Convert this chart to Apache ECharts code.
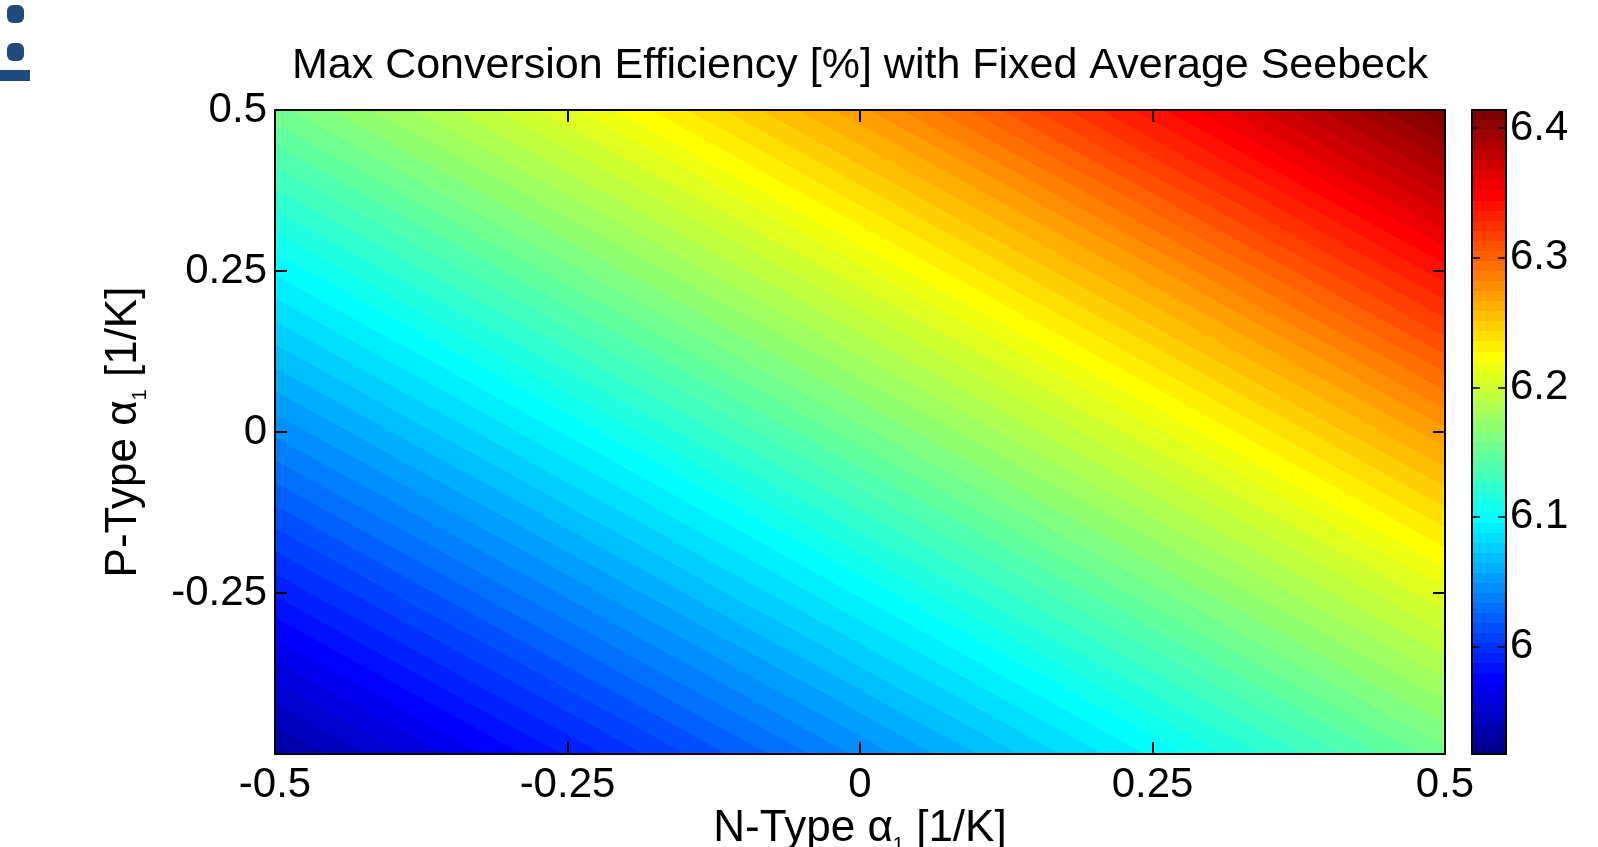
<!DOCTYPE html>
<html>
<head>
<meta charset="utf-8">
<script src="https://cdn.jsdelivr.net/npm/echarts@6/dist/echarts.min.js"></script>
<style>
html,body{margin:0;padding:0;background:#fff;}
#chart{width:1598px;height:847px;}
</style>
</head>
<body>
<div id="chart"></div>
<script>
// ---- data ----
const nTypeAlpha = [-0.5, -0.25, 0, 0.25, 0.5];        // x grid nodes [1/K]
const pTypeAlpha = [0.5, 0.25, 0, -0.25, -0.5];        // y grid nodes [1/K], top row first
const efficiency = [                                   // max conversion efficiency [%]
  [6.155, 6.210, 6.272, 6.341, 6.414],
  [6.097, 6.155, 6.210, 6.272, 6.341],
  [6.043, 6.097, 6.155, 6.210, 6.272],
  [5.988, 6.043, 6.097, 6.155, 6.210],
  [5.930, 5.988, 6.043, 6.097, 6.155]
];
const axisTicks = [-0.5, -0.25, 0, 0.25, 0.5];
const colorbarTicks = [6, 6.1, 6.2, 6.3, 6.4];
const colorRange = [5.917, 6.414];

// ---- MATLAB jet(64) colormap ----
function jetColormap(m) {
  const n = Math.ceil(m / 4);
  const u = [];
  for (let i = 1; i <= n; i++) u.push(i / n);
  for (let i = 1; i < n; i++) u.push(1);
  for (let i = n; i >= 1; i--) u.push(i / n);
  const R = new Array(m).fill(0), G = new Array(m).fill(0), B = new Array(m).fill(0);
  const off = Math.ceil(n / 2) - (m % 4 === 1 ? 1 : 0);
  for (let k = 0; k < u.length; k++) {
    const g = off + k + 1, r = g + n, b = g - n;
    if (g >= 1 && g <= m) G[g - 1] = u[k];
    if (r >= 1 && r <= m) R[r - 1] = u[k];
    if (b >= 1 && b <= m) B[b - 1] = u[k];
  }
  const out = [];
  for (let i = 0; i < m; i++) {
    out.push('rgb(' + Math.round(R[i] * 255) + ',' + Math.round(G[i] * 255) + ',' + Math.round(B[i] * 255) + ')');
  }
  return out;
}
const jet = jetColormap(64);
const bandStops = [];
jet.forEach((c, i) => {
  bandStops.push({offset: i / jet.length, color: c});
  bandStops.push({offset: (i + 1) / jet.length, color: c});
});

// cells of the grid: [x0, x1, y0, y1, vBL, vBR, vTL, vTR]
const cells = [];
for (let r = 0; r < pTypeAlpha.length - 1; r++) {
  for (let c = 0; c < nTypeAlpha.length - 1; c++) {
    const yTop = pTypeAlpha[r], yBot = pTypeAlpha[r + 1];
    cells.push([nTypeAlpha[c], nTypeAlpha[c + 1], yBot, yTop,
      efficiency[r + 1][c], efficiency[r + 1][c + 1], efficiency[r][c], efficiency[r][c + 1]]);
  }
}

function triangle(p0, p1, p2, v0, v1, v2) {
  const a = p1[0] - p0[0], b = p1[1] - p0[1], c = p2[0] - p0[0], d = p2[1] - p0[1];
  const det = a * d - b * c;
  const dv1 = v1 - v0, dv2 = v2 - v0;
  const gx = (dv1 * d - dv2 * b) / det;
  const gy = (a * dv2 - c * dv1) / det;
  const g2 = gx * gx + gy * gy;
  let fill;
  if (g2 < 1e-12) {
    const t = (v0 - colorRange[0]) / (colorRange[1] - colorRange[0]);
    fill = jet[Math.max(0, Math.min(jet.length - 1, Math.floor(t * jet.length)))];
  } else {
    const ks = (colorRange[0] - v0) / g2, ke = (colorRange[1] - v0) / g2;
    fill = new echarts.graphic.LinearGradient(
      p0[0] + gx * ks, p0[1] + gy * ks, p0[0] + gx * ke, p0[1] + gy * ke, bandStops, true);
  }
  return {
    type: 'polygon',
    shape: {points: [p0, p1, p2]},
    style: {fill: fill, stroke: fill, lineWidth: 1}
  };
}

const FONT = 'Liberation Sans, Arial, Helvetica, sans-serif';
const black = '#000';
const frameLine = {show: true, onZero: false, lineStyle: {color: black, width: 2}};
const nameStyle = {
  fontSize: 44, lineHeight: 52, color: black, fontFamily: FONT,
  rich: {s: {fontSize: 20, lineHeight: 1, verticalAlign: 'bottom', color: black, fontFamily: FONT}}
};

const chart = echarts.init(document.getElementById('chart'), null, {renderer: 'canvas'});
chart.setOption({
  animation: false,
  backgroundColor: '#fff',
  textStyle: {fontFamily: FONT, color: black},
  title: {
    text: 'Max Conversion Efficiency [%] with Fixed Average Seebeck',
    left: 860, top: 45, padding: 0, textAlign: 'center',
    textStyle: {fontSize: 43, fontWeight: 'normal', color: black, fontFamily: FONT}
  },
  graphic: [
    {type: 'rect', shape: {x: 7, y: 5, width: 17, height: 18, r: 6}, style: {fill: '#1f4a7d'}},
    {type: 'rect', shape: {x: 7, y: 43, width: 17, height: 18, r: 6}, style: {fill: '#1f4a7d'}},
    {type: 'rect', shape: {x: 0, y: 70, width: 30, height: 11}, style: {fill: '#1f4a7d'}}
  ],
  grid: [
    {left: 275, top: 110, width: 1170, height: 644, outerBoundsMode: 'none'},
    {left: 1472, top: 110, width: 34, height: 644, outerBoundsMode: 'none'}
  ],
  xAxis: [
    {
      gridIndex: 0, type: 'value', position: 'bottom', min: axisTicks[0], max: axisTicks[axisTicks.length - 1], interval: 0.25,
      z: 10, axisLine: frameLine,
      axisTick: {inside: true, length: 12, lineStyle: {color: black, width: 2}},
      axisLabel: {fontSize: 42, color: black, margin: 10, fontFamily: FONT},
      splitLine: {show: false},
      name: 'N-Type α{s|1} [1/K]', nameLocation: 'middle', nameGap: 49, nameMoveOverlap: false,
      nameTextStyle: nameStyle
    },
    {
      gridIndex: 0, type: 'value', position: 'top', min: axisTicks[0], max: axisTicks[axisTicks.length - 1], interval: 0.25,
      z: 10, axisLine: frameLine,
      axisTick: {inside: true, length: 12, lineStyle: {color: black, width: 2}},
      axisLabel: {show: false}, splitLine: {show: false}
    },
    {gridIndex: 1, type: 'value', position: 'bottom', min: 0, max: 1, z: 10, axisLine: frameLine,
      axisTick: {show: false}, axisLabel: {show: false}, splitLine: {show: false}},
    {gridIndex: 1, type: 'value', position: 'top', min: 0, max: 1, z: 10, axisLine: frameLine,
      axisTick: {show: false}, axisLabel: {show: false}, splitLine: {show: false}}
  ],
  yAxis: [
    {
      gridIndex: 0, type: 'value', position: 'left', min: axisTicks[0], max: axisTicks[axisTicks.length - 1], interval: 0.25,
      z: 10, axisLine: frameLine,
      axisTick: {inside: true, length: 12, lineStyle: {color: black, width: 2}},
      axisLabel: {fontSize: 42, color: black, margin: 8, showMinLabel: false, fontFamily: FONT},
      splitLine: {show: false},
      name: 'P-Type α{s|1} [1/K]', nameLocation: 'middle', nameRotate: 90, nameGap: 125, nameMoveOverlap: false,
      nameTextStyle: nameStyle
    },
    {
      gridIndex: 0, type: 'value', position: 'right', min: axisTicks[0], max: axisTicks[axisTicks.length - 1], interval: 0.25,
      z: 10, axisLine: frameLine,
      axisTick: {inside: true, length: 12, lineStyle: {color: black, width: 2}},
      axisLabel: {show: false}, splitLine: {show: false}
    },
    {
      gridIndex: 1, type: 'value', position: 'left', min: colorRange[0], max: colorRange[1],
      z: 10, axisLine: frameLine,
      axisTick: {inside: true, length: 8, customValues: colorbarTicks, lineStyle: {color: black, width: 1.5}},
      axisLabel: {show: false}, splitLine: {show: false}
    },
    {
      gridIndex: 1, type: 'value', position: 'right', min: colorRange[0], max: colorRange[1],
      z: 10, axisLine: frameLine,
      axisTick: {inside: true, length: 8, customValues: colorbarTicks, lineStyle: {color: black, width: 1.5}},
      axisLabel: {fontSize: 42, color: black, margin: 4, customValues: colorbarTicks, fontFamily: FONT},
      splitLine: {show: false}
    }
  ],
  series: [
    {
      name: 'Efficiency',
      type: 'custom',
      coordinateSystem: 'cartesian2d',
      xAxisIndex: 0, yAxisIndex: 0,
      encode: {x: [0, 1], y: [2, 3]},
      data: cells,
      silent: true,
      renderItem: function (params, api) {
        const x0 = api.value(0), x1 = api.value(1), y0 = api.value(2), y1 = api.value(3);
        const pBL = api.coord([x0, y0]), pBR = api.coord([x1, y0]);
        const pTL = api.coord([x0, y1]), pTR = api.coord([x1, y1]);
        const vBL = api.value(4), vBR = api.value(5), vTL = api.value(6), vTR = api.value(7);
        return {
          type: 'group',
          children: [
            triangle(pBL, pBR, pTL, vBL, vBR, vTL),
            triangle(pBR, pTR, pTL, vBR, vTR, vTL)
          ]
        };
      }
    },
    {
      name: 'Colorbar',
      type: 'custom',
      coordinateSystem: 'cartesian2d',
      xAxisIndex: 2, yAxisIndex: 2,
      encode: {x: [0, 1], y: [2, 3]},
      data: [[0, 1, colorRange[0], colorRange[1]]],
      silent: true,
      renderItem: function (params, api) {
        const pB = api.coord([api.value(0), api.value(2)]);
        const pT = api.coord([api.value(1), api.value(3)]);
        const grad = new echarts.graphic.LinearGradient(0, pB[1], 0, pT[1], bandStops, true);
        return {
          type: 'rect',
          shape: {x: pB[0], y: pT[1], width: pT[0] - pB[0], height: pB[1] - pT[1]},
          style: {fill: grad}
        };
      }
    }
  ]
});
</script>
</body>
</html>
